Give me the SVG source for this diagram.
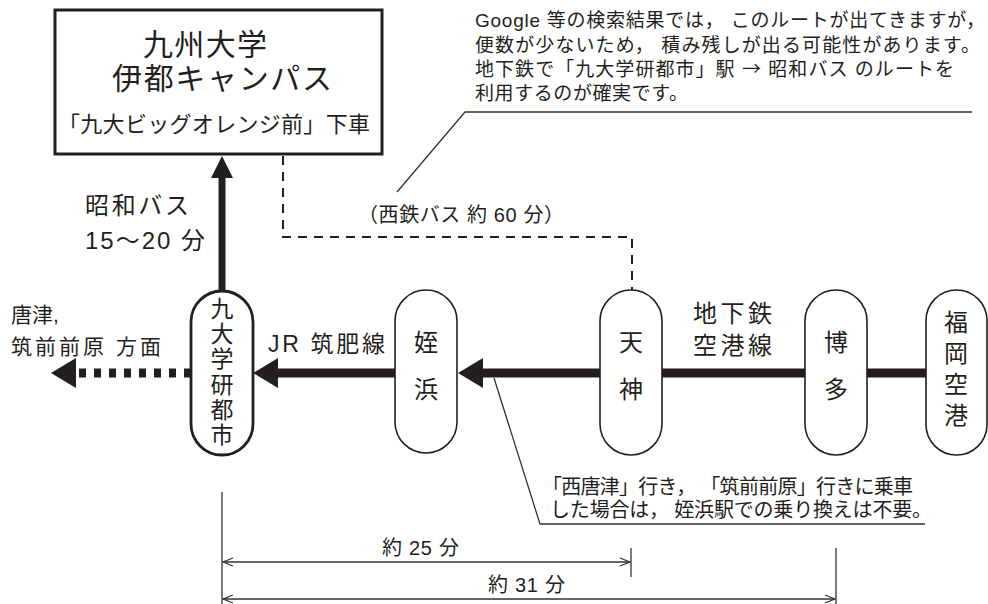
<svg xmlns="http://www.w3.org/2000/svg" width="988" height="604" viewBox="0 0 988 604">
<style>
text{font-family:"Liberation Sans","Noto Sans CJK JP",sans-serif;fill:#231f20}
.cjk{font-family:"Noto Sans CJK JP",sans-serif}
.t30{font-size:30px}
.t24{font-size:24px}
.t23{font-size:23px}
.t22{font-size:22px}
.t21{font-size:21px}
.t20{font-size:20px}
.t19{font-size:19px}
.mid{text-anchor:middle}
.pill{fill:#fff;stroke:#231f20;stroke-width:1.6}
.pillb{fill:#fff;stroke:#231f20;stroke-width:2.8}
.rail{stroke:#231f20;stroke-width:9;fill:none}
.thin{stroke:#333;stroke-width:1.3;fill:none}
.dash{stroke:#231f20;stroke-width:2;fill:none;stroke-dasharray:9 7}
.dim{stroke:#333;stroke-width:1.3;fill:none}
</style>
<defs>
<marker id="head" viewBox="0 0 25 30" refX="1" refY="15" markerWidth="25" markerHeight="30" markerUnits="userSpaceOnUse" orient="auto">
<path d="M0,0 L25,15 L0,30 z" fill="#231f20"/>
</marker>
<marker id="headS" viewBox="0 0 22 22" refX="1" refY="11" markerWidth="22" markerHeight="22" markerUnits="userSpaceOnUse" orient="auto">
<path d="M0,0 L22,11 L0,22 z" fill="#231f20"/>
</marker>
<marker id="open" viewBox="-1 -1 12 10" refX="10" refY="4" markerWidth="12" markerHeight="10" markerUnits="userSpaceOnUse" orient="auto-start-reverse">
<path d="M0,0 L10,4 L0,8" fill="none" stroke="#333" stroke-width="1.3"/>
</marker>
</defs>
<rect width="988" height="604" fill="#fff"/>

<g id="connectors">
<line class="rail" x1="926" y1="373" x2="867" y2="373"/>
<line class="rail" x1="805" y1="373" x2="662" y2="373"/>
<line class="rail" x1="600" y1="373" x2="482" y2="373" marker-end="url(#head)"/>
<line class="rail" x1="395" y1="373" x2="277" y2="373" marker-end="url(#head)"/>
<line class="rail" x1="191" y1="373" x2="75" y2="373" style="stroke-dasharray:7 8" marker-end="url(#head)"/>
<line class="rail" x1="222" y1="290" x2="222" y2="177" style="stroke-width:7" marker-end="url(#headS)"/>
<path class="dash" d="M283,156 V237 H632 V290"/>
<polyline class="thin" points="397,192 465,112 972,112"/>
<polyline class="thin" points="494,378 540,524 925,524"/>
<line class="dim" x1="222" y1="492" x2="222" y2="604"/>
<line class="dim" x1="631" y1="548" x2="631" y2="577"/>
<line class="dim" x1="836" y1="548" x2="836" y2="604"/>
<line class="dim" x1="223" y1="562" x2="630" y2="562" marker-start="url(#open)" marker-end="url(#open)"/>
<line class="dim" x1="223" y1="599" x2="835" y2="599" marker-start="url(#open)" marker-end="url(#open)"/>
</g>

<g id="campus">
<rect x="55" y="10" width="327" height="144" fill="#fff" stroke="#231f20" stroke-width="3"/>
<text class="t30" x="143" y="55" textLength="124">九州大学</text>
<text class="t30" x="112" y="89" textLength="220">伊都キャンパス</text>
<text class="t22" x="58" y="132" textLength="312">「九大ビッグオレンジ前」下車</text>
</g>

<g id="st-kyudaigakukentoshi">
<rect class="pillb" x="191" y="291" width="62" height="164" rx="31"/>
<text class="t23 mid"><tspan x="222" y="317">九</tspan><tspan x="222" y="342">大</tspan><tspan x="222" y="367">学</tspan><tspan x="222" y="393">研</tspan><tspan x="222" y="418">都</tspan><tspan x="222" y="443">市</tspan></text>
</g>

<g id="st-meinohama">
<rect class="pill" x="395" y="290" width="62" height="163" rx="31"/>
<text class="t24 mid"><tspan x="426" y="351">姪</tspan><tspan x="426" y="398">浜</tspan></text>
</g>

<g id="st-tenjin">
<rect class="pill" x="600" y="290" width="62" height="165" rx="31"/>
<text class="t24 mid"><tspan x="631" y="351">天</tspan><tspan x="631" y="398">神</tspan></text>
</g>

<g id="st-hakata">
<rect class="pill" x="805" y="290" width="62" height="165" rx="31"/>
<text class="t24 mid"><tspan x="836" y="351">博</tspan><tspan x="836" y="398">多</tspan></text>
</g>

<g id="st-airport">
<rect class="pill" x="926" y="290" width="61" height="165" rx="30.5"/>
<text class="t24 mid"><tspan x="956" y="331">福</tspan><tspan x="956" y="362">岡</tspan><tspan x="956" y="393">空</tspan><tspan x="956" y="424">港</tspan></text>
</g>

<g id="labels">
<text class="t24" x="85" y="214" textLength="104">昭和バス</text>
<text class="t24" x="85" y="249" textLength="120">15〜20 分</text>
<text class="t20" x="358" y="222" textLength="206">（西鉄バス 約 60 分）</text>
<text class="t21" x="11" y="322">唐津,</text>
<text class="t21" x="11" y="354" textLength="150">筑前前原 方面</text>
<text class="t23" x="268" y="352" textLength="117">JR 筑肥線</text>
<text class="t24" x="693" y="322" textLength="79">地下鉄</text>
<text class="t24" x="693" y="354" textLength="79">空港線</text>
<text class="t19" x="475" y="27" textLength="510">Google 等の検索結果では， このルートが出てきますが，</text>
<text class="t19" x="475" y="52" textLength="505">便数が少ないため， 積み残しが出る可能性があります。</text>
<text class="t19" x="475" y="76" textLength="479">地下鉄で「九大学研都市」駅 <tspan class="cjk">→</tspan> 昭和バス のルートを</text>
<text class="t19" x="475" y="100" textLength="213">利用するのが確実です。</text>
<text class="t20" x="542" y="494" textLength="371">「西唐津」行き， 「筑前前原」行きに乗車</text>
<text class="t20" x="550" y="517" textLength="382">した場合は， 姪浜駅での乗り換えは不要。</text>
<text class="t20" x="382" y="555" textLength="77">約 25 分</text>
<text class="t20" x="488" y="592" textLength="77">約 31 分</text>
</g>
</svg>
